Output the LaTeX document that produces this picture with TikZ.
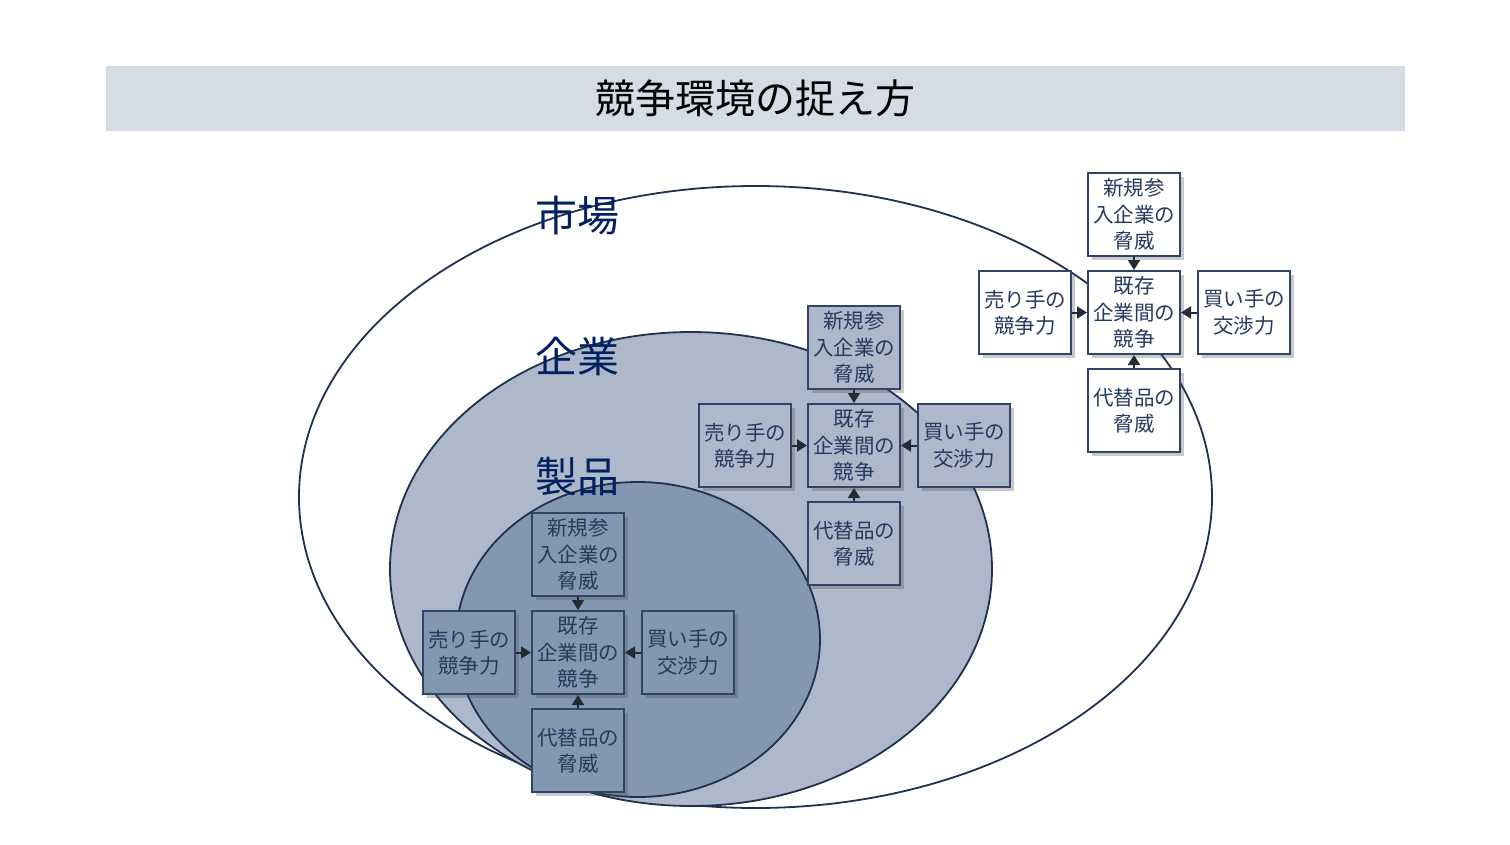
\documentclass[tikz,border=0pt]{standalone}
\usepackage{fontspec}
\newfontfamily\jp{Noto Sans CJK JP}
\usetikzlibrary{arrows.meta, positioning, shadows}
\definecolor{titlebg}{HTML}{D6DCE5}
\definecolor{compfill}{HTML}{ADB9CA}
\definecolor{prodfill}{HTML}{8497B0}
\definecolor{ringline}{HTML}{1F3050}
\definecolor{boxline}{HTML}{2F4468}
\definecolor{boxtext}{HTML}{263A5E}
\definecolor{arrowline}{HTML}{222A35}
\definecolor{labelblue}{HTML}{002060}

\begin{document}
\begin{tikzpicture}[x=1pt, y=-1pt, >={Triangle[length=10pt, width=12pt]},
    ring/.style={draw=ringline, line width=1.8pt},
    fbox/.style={draw=boxline, line width=2pt, text=boxtext, minimum width=92pt, minimum height=83pt,
        inner sep=0pt, align=center, font=\jp\fontsize{20.5}{26.5}\selectfont,
        drop shadow={shadow xshift=4pt, shadow yshift=-4pt, opacity=0.3, fill=black!70}},
    bigword/.style={text=labelblue, font=\jp\fontsize{42}{42}\selectfont, anchor=west, inner sep=0pt}]
    \useasboundingbox (0,0) rectangle (1510,844);
    \node[fill=titlebg, minimum width=1299pt, minimum height=65pt, font=\jp\fontsize{40}{40}\selectfont] (title) at (755.5,98.5) {競争環境の捉え方};

    \draw[ring, fill=white] (755.5,497) ellipse [x radius=456.5, y radius=311];
    \draw[ring, fill=compfill] (691,569) ellipse [x radius=301, y radius=237];
    \draw[ring, fill=prodfill] (638,639.5) ellipse [x radius=182, y radius=157.5];

    \node[bigword] (market) at (535,216) {市場};
    \node[bigword] (company) at (535,356) {企業};
    \node[bigword] (product) at (535,477) {製品};

    \foreach \g/\cx/\cy/\c in {mk/1134/312.5/white, co/854/445.5/compfill, pr/578/652.5/prodfill}{
        \node[fbox, fill=\c] (core\g) at (\cx,\cy) {既存\\企業間の\\競争};
        \node[fbox, fill=\c, above=13pt of core\g] (new\g) {新規参\\入企業の\\脅威};
        \node[fbox, fill=\c, below=13pt of core\g] (sub\g) {代替品の\\脅威};
        \node[fbox, fill=\c, left=15pt of core\g] (sell\g) {売り手の\\競争力};
        \node[fbox, fill=\c, right=16pt of core\g] (buy\g) {買い手の\\交渉力};
        \draw[->, draw=arrowline, fill=arrowline, line width=2pt] (new\g) -- (core\g);
        \draw[->, draw=arrowline, fill=arrowline, line width=2pt] (sub\g) -- (core\g);
        \draw[->, draw=arrowline, fill=arrowline, line width=2pt] (sell\g) -- (core\g);
        \draw[->, draw=arrowline, fill=arrowline, line width=2pt] (buy\g) -- (core\g);
    }
\end{tikzpicture}
\end{document}
